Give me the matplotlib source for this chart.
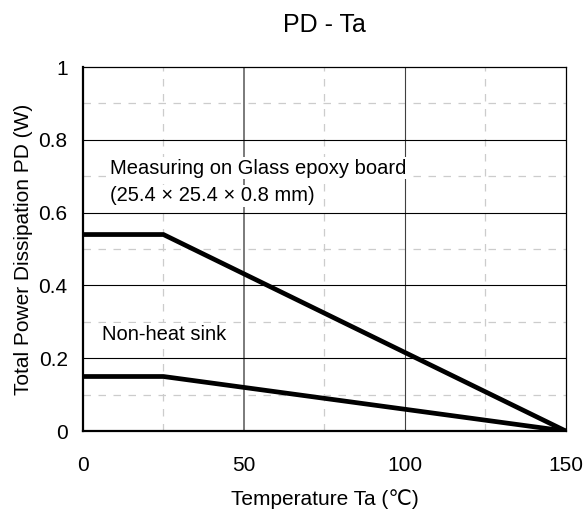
import matplotlib.pyplot as plt
import numpy as np

plt.rcParams['font.family'] = ['Liberation Sans', 'DejaVu Sans']

# derating curves, temperature (C) vs power (W)
temp_points = [0, 25, 150]
pd_glass_epoxy = [0.54, 0.54, 0.0]
pd_no_sink = [0.15, 0.15, 0.0]

x_ticks = [0, 50, 100, 150]
y_ticks = [0, 0.2, 0.4, 0.6, 0.8, 1]
y_labels = ['0', '0.2', '0.4', '0.6', '0.8', '1']

fig, ax = plt.subplots(figsize=(5.84, 5.12), dpi=100)
fig.subplots_adjust(left=0.142, right=0.969, top=0.869, bottom=0.158)

# minor dashed grid
for xv in [25, 75, 125]:
    ax.axvline(xv, color='#cccccc', lw=0.9, ls=(0, (6, 6)), zorder=1)
for yv in [0.1, 0.3, 0.5, 0.7, 0.9]:
    ax.axhline(yv, color='#cccccc', lw=0.9, ls=(0, (6, 6)), zorder=1)
# major grid
ax.axvline(50, color='#707070', lw=1.3, zorder=1)
ax.axvline(100, color='#404040', lw=0.8, zorder=1)
for yv in [0.2, 0.4, 0.6, 0.8]:
    ax.axhline(yv, color='black', lw=0.8, zorder=1)

ax.plot(temp_points, pd_glass_epoxy, color='black', lw=3.4, zorder=3,
        solid_joinstyle='miter')
ax.plot(temp_points, pd_no_sink, color='black', lw=3.4, zorder=3,
        solid_joinstyle='miter')

txt_kw = dict(fontsize=14.5, zorder=2, va='center', ha='left',
              bbox=dict(facecolor='white', edgecolor='none', pad=1))
ax.text(8.3, 0.722, 'Measuring on Glass epoxy board', **txt_kw)
ax.text(8.3, 0.646, '(25.4 \u00d7 25.4 \u00d7 0.8 mm)', **txt_kw)
ax.text(5.9, 0.266, 'Non-heat sink', **txt_kw)

ax.set_xlim(0, 150)
ax.set_ylim(0, 1)
ax.set_xticks(x_ticks)
ax.set_yticks(y_ticks)
ax.set_yticklabels(y_labels)
ax.tick_params(length=0, labelsize=15)
ax.tick_params(axis='x', pad=18)
ax.tick_params(axis='y', pad=11)

for side in ['left', 'bottom']:
    ax.spines[side].set_linewidth(1.6)
for side in ['top', 'right']:
    ax.spines[side].set_linewidth(0.9)
ax.spines['bottom'].set_zorder(4)

ax.set_xlabel('Temperature Ta (\u2103)', fontsize=15, labelpad=10)
ax.set_ylabel('Total Power Dissipation PD (W)', fontsize=15, labelpad=4)
ax.set_title('PD - Ta', fontsize=18, pad=25)

fig.savefig('out.png', dpi=100)
